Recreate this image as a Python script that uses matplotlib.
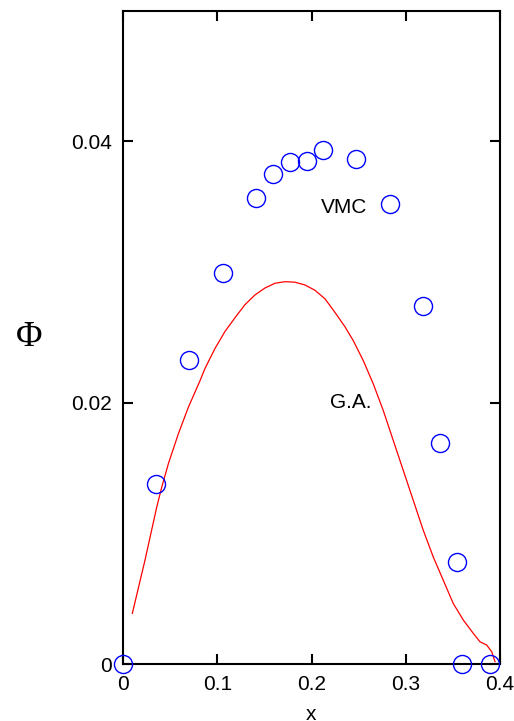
import matplotlib
matplotlib.use("Agg")
import matplotlib.pyplot as plt

# VMC data points
vmc_x = [0.0, 0.0350, 0.0700, 0.1061, 0.1411, 0.1592, 0.1772, 0.1952, 0.2122,
         0.2472, 0.2833, 0.3183, 0.3363, 0.3544, 0.3597, 0.3894]
vmc_y = [0.0, 0.01374, 0.02328, 0.02992, 0.03565, 0.03748, 0.03840, 0.03847,
         0.03931, 0.03863, 0.03519, 0.02740, 0.01695, 0.00779, 0.0, 0.0]

# G.A. curve
ga_x = [0.0099, 0.0233, 0.0358, 0.0411, 0.0481, 0.0587, 0.0693, 0.0817,
        0.0870, 0.0976, 0.1082, 0.1188, 0.1294, 0.1401, 0.1507, 0.1613,
        0.1719, 0.1825, 0.1931, 0.2037, 0.2143, 0.2250, 0.2356, 0.2443,
        0.2550, 0.2656, 0.2762, 0.2868, 0.2974, 0.3080, 0.3186, 0.3292,
        0.3398, 0.3504, 0.3611, 0.3717, 0.3788, 0.3859, 0.3912, 0.3947]
ga_y = [0.00387, 0.00794, 0.01201, 0.01353, 0.01532, 0.01761, 0.01964, 0.02168,
        0.02262, 0.02415, 0.02545, 0.02650, 0.02750, 0.02825, 0.02878, 0.02914,
        0.02926, 0.02922, 0.02901, 0.02860, 0.02795, 0.02690, 0.02580, 0.02475,
        0.02321, 0.02143, 0.01939, 0.01710, 0.01481, 0.01252, 0.01023, 0.00819,
        0.00641, 0.00463, 0.00336, 0.00234, 0.00170, 0.00145, 0.00094, 0.00018]

x_ticks = [0, 0.1, 0.2, 0.3, 0.4]
x_tick_labels = ["0", "0.1", "0.2", "0.3", "0.4"]
y_ticks = [0, 0.02, 0.04]
y_tick_labels = ["0", "0.02", "0.04"]

plt.rcParams['font.family'] = ['Liberation Sans', 'DejaVu Sans']

fig = plt.figure(figsize=(5.14, 7.21), dpi=100)
ax = fig.add_axes([123/514, 1-664/721, 377/514, (664-10.7)/721])

ax.plot(ga_x, ga_y, color='#ff0000', lw=0.9)
ax.plot(vmc_x, vmc_y, 'o', mfc='none', mec='#0000ff', ms=13, mew=1.0, clip_on=False, zorder=5)

ax.set_xlim(0, 0.4)
ax.set_ylim(0, 0.05)
ax.set_xticks(x_ticks)
ax.set_xticklabels(x_tick_labels)
ax.set_yticks(y_ticks)
ax.set_yticklabels(y_tick_labels)
ax.tick_params(direction='in', top=True, right=True, labelsize=15, length=7, width=1.5, pad=8)
for s in ax.spines.values():
    s.set_linewidth(1.5)

ax.set_xlabel('x', fontsize=15, labelpad=8)
ax.set_ylabel('Φ', fontsize=26, family=['Liberation Serif', 'DejaVu Serif'], rotation=0, labelpad=30, va='center')

ax.text(0.2345, 0.0349, 'VMC', fontsize=15, ha='center', va='center')
ax.text(0.2416, 0.0200, 'G.A.', fontsize=15, ha='center', va='center')

fig.savefig('out.png', dpi=100)
